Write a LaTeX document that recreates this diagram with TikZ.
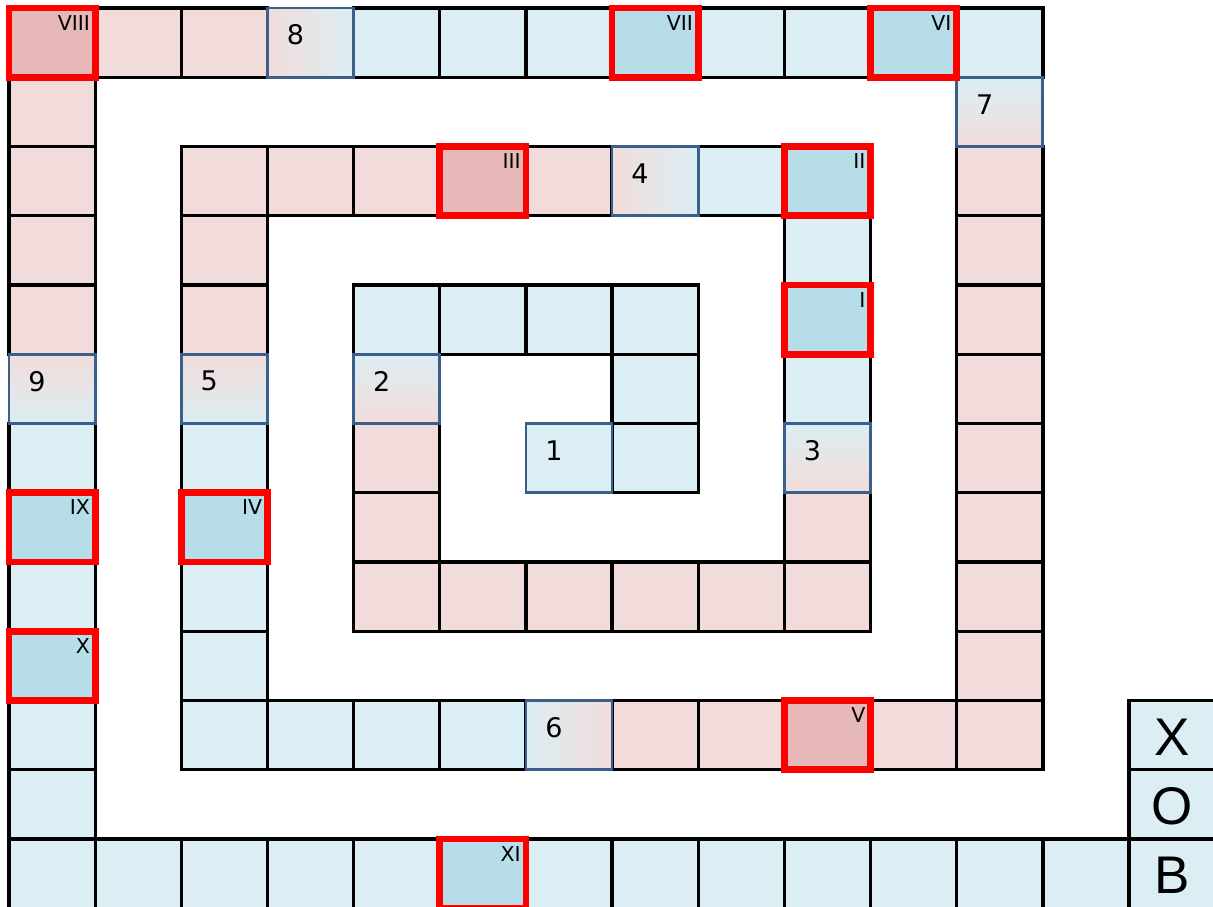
\documentclass[tikz,border=0pt]{standalone}
\usepackage{fontspec}
\setmainfont{DejaVu Sans}
\newfontfamily\letterfont{Liberation Sans}
\definecolor{pinkL}{HTML}{F2DCDB}
\definecolor{pinkD}{HTML}{E6B9B8}
\definecolor{blueL}{HTML}{DBEEF3}
\definecolor{blueD}{HTML}{B7DDE8}
\definecolor{frameblue}{HTML}{3A5F8B}
\newcommand\cellat[2]{({9+86.154*(#1+0.5)},{8+69.25*(#2+0.5)})}
\begin{document}
\begin{tikzpicture}[x=1pt,y=-1pt,
  cellbox/.style={rectangle,minimum width=86.154pt,minimum height=69.25pt,inner sep=0pt,outer sep=0pt,draw=black,line width=3.3pt},
  numbox/.style={cellbox,draw=frameblue,line width=2.8pt},
  redframe/.style={draw=red,line width=6.8pt},
  romanlbl/.style={anchor=north east,inner sep=0pt,font=\fontsize{20.5}{24}\selectfont},
  digitlbl/.style={inner sep=0pt,font=\fontsize{27}{32}\selectfont},
  letterlbl/.style={inner sep=0pt,font=\letterfont\fontsize{53}{62}\selectfont}]
\useasboundingbox (0,0) rectangle (1213,907);
\clip (0,0) rectangle (1213,907);
\fill[white] (0,0) rectangle (1213,907);
% plain pink cells
\foreach \i/\j in {1/0,2/0, 0/1,0/2,0/3,0/4,
  11/2,11/3,11/4,11/5,11/6,11/7,11/8,11/9,11/10,
  7/10,8/10,10/10, 2/2,2/3,2/4, 3/2,4/2,6/2,
  9/7,9/8, 4/8,5/8,6/8,7/8,8/8, 4/6,4/7}
  \node[cellbox,fill=pinkL] (c-\i-\j) at \cellat{\i}{\j} {};
% plain blue cells
\foreach \i/\j in {4/0,5/0,6/0,8/0,9/0,11/0,
  0/6,0/8,0/10,0/11,0/12,
  1/12,2/12,3/12,4/12,6/12,7/12,8/12,9/12,10/12,11/12,12/12,
  13/10,13/11,13/12,
  2/10,3/10,4/10,5/10, 2/6,2/8,2/9, 8/2, 9/3,9/5,
  4/4,5/4,6/4,7/4, 7/5,7/6}
  \node[cellbox,fill=blueL] (c-\i-\j) at \cellat{\i}{\j} {};
% special (red framed) cells
\foreach \i/\j in {0/0,5/2,9/10}
  \node[cellbox,fill=pinkD] (c-\i-\j) at \cellat{\i}{\j} {};
\foreach \i/\j in {7/0,10/0,9/2,9/4,0/7,2/7,0/9,5/12}
  \node[cellbox,fill=blueD] (c-\i-\j) at \cellat{\i}{\j} {};
% numbered cells
\foreach \i/\j in {3/0,7/2}
  \node[numbox,left color=pinkL,right color=blueL] (c-\i-\j) at \cellat{\i}{\j} {};
\node[numbox,left color=blueL,right color=pinkL] (c-6-10) at \cellat{6}{10} {};
\foreach \i/\j in {11/1,9/6,4/5}
  \node[numbox,top color=blueL,bottom color=pinkL] (c-\i-\j) at \cellat{\i}{\j} {};
\foreach \i/\j in {0/5,2/5}
  \node[numbox,top color=pinkL,bottom color=blueL] (c-\i-\j) at \cellat{\i}{\j} {};
\node[numbox,fill=blueL] (c-6-6) at \cellat{6}{6} {};
% red frames
\foreach \i/\j in {0/0,5/2,9/10,7/0,10/0,9/2,9/4,0/7,2/7,0/9,5/12}
  \draw[redframe] (c-\i-\j.north west) rectangle (c-\i-\j.south east);
% roman labels
\foreach \i/\j/\t in {0/0/VIII,7/0/VII,10/0/VI,5/2/III,9/2/II,9/4/I,0/7/IX,2/7/IV,0/9/X,9/10/V,5/12/XI}
  \node[romanlbl] (r-\i-\j) at ([xshift=-5pt,yshift=-7pt]c-\i-\j.north east) {\t};
% digit labels
\foreach \i/\j/\t in {6/6/1,4/5/2,9/6/3,7/2/4,2/5/5,6/10/6,11/1/7,3/0/8,0/5/9}
  \node[digitlbl] (d-\t) at ([xshift=28pt,yshift=-27pt]c-\i-\j.north west) {\t};
% letters
\node[letterlbl] (lx) at ([yshift=-2pt]c-13-10.center) {X};
\node[letterlbl] (lo) at ([yshift=-2pt]c-13-11.center) {O};
\node[letterlbl] (lb) at ([yshift=-2pt]c-13-12.center) {B};
\end{tikzpicture}
\end{document}
